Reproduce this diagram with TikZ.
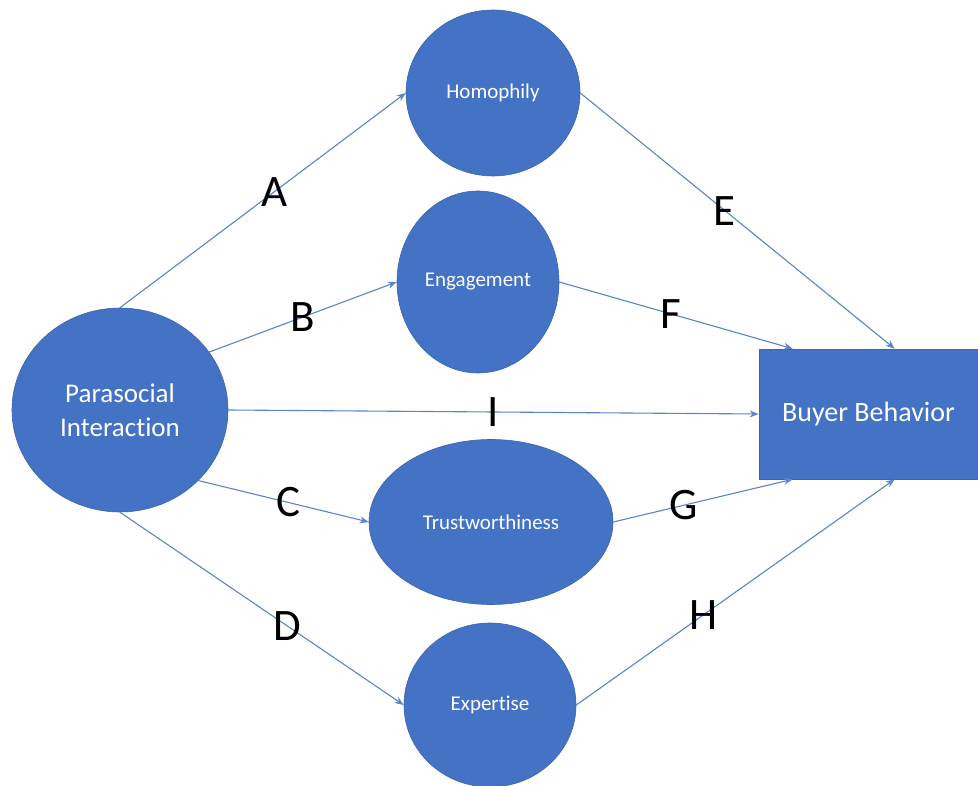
\documentclass[tikz,border=0pt]{standalone}
\usepackage{fontspec}
\setmainfont[Ligatures={NoCommon,NoContextual}]{Carlito}
\usetikzlibrary{shapes.geometric,arrows.meta}
\definecolor{nodeblue}{HTML}{4472C4}
\definecolor{rimblue}{HTML}{3B65B0}
\definecolor{lineblue}{HTML}{5B84CC}
\tikzset{
  blob/.style={ellipse, fill=nodeblue, draw=rimblue, line width=0.6pt, inner sep=0pt,
    text=white, font=\fontsize{21}{25}\selectfont},
  outcome/.style={rectangle, fill=nodeblue, draw=rimblue, line width=0.6pt, inner sep=0pt,
    text=white, font=\fontsize{28}{34}\selectfont},
  link/.style={draw=lineblue, line width=1.1pt, -{Stealth[length=9pt,width=7pt]}},
  lbl/.style={font=\fontsize{45}{50}\selectfont, text=black, inner sep=0pt}
}
\begin{document}
\begin{tikzpicture}[x=1pt,y=-1pt]
  \useasboundingbox[fill=white] (0,0) rectangle (978,786);

  % constructs
  \node[blob, minimum width=216pt, minimum height=204pt, align=center,
        font=\fontsize{27}{34}\selectfont] (par) at (120,410) {Parasocial\\Interaction};
  \node[blob, minimum width=174pt, minimum height=166pt] (homo)  at (493,93)  {Homophily};
  \node[blob, minimum width=162pt, minimum height=182pt] (eng)   at (478,282) {Engagement};
  \node[blob, minimum width=244pt, minimum height=165pt] (trust) at (491,522) {Trustworthiness};
  \node[blob, minimum width=172pt, minimum height=164pt] (exp)   at (490,705) {Expertise};
  \node[outcome, minimum width=219pt, minimum height=130pt] (buyer) at (868.5,414) {Buyer Behavior};

  % paths
  \draw[link] (par.north) -- node[lbl,pos=.54] (labA) {A} (homo.west);
  \draw[link] (par.33)    -- node[lbl,pos=.50] (labB) {B} (eng.west);
  \draw[link] (par.-42)   -- node[lbl,pos=.53] (labC) {C} (trust.west);
  \draw[link] (par.south) -- node[lbl,pos=.59] (labD) {D} (exp.west);
  \draw[link] (par.east)  -- node[lbl,pos=.50] (labI) {I} (buyer.west);
  \draw[link] (homo.east)  -- node[lbl,pos=.46] (labE) {E} ([xshift=136pt]buyer.north west);
  \draw[link] (eng.east)   -- node[lbl,pos=.48] (labF) {F} ([xshift=34pt]buyer.north west);
  \draw[link] (trust.east) -- node[lbl,pos=.39] (labG) {G} ([xshift=34pt]buyer.south west);
  \draw[link] (exp.east)   -- node[lbl,pos=.40] (labH) {H} ([xshift=136pt]buyer.south west);
\end{tikzpicture}
\end{document}
